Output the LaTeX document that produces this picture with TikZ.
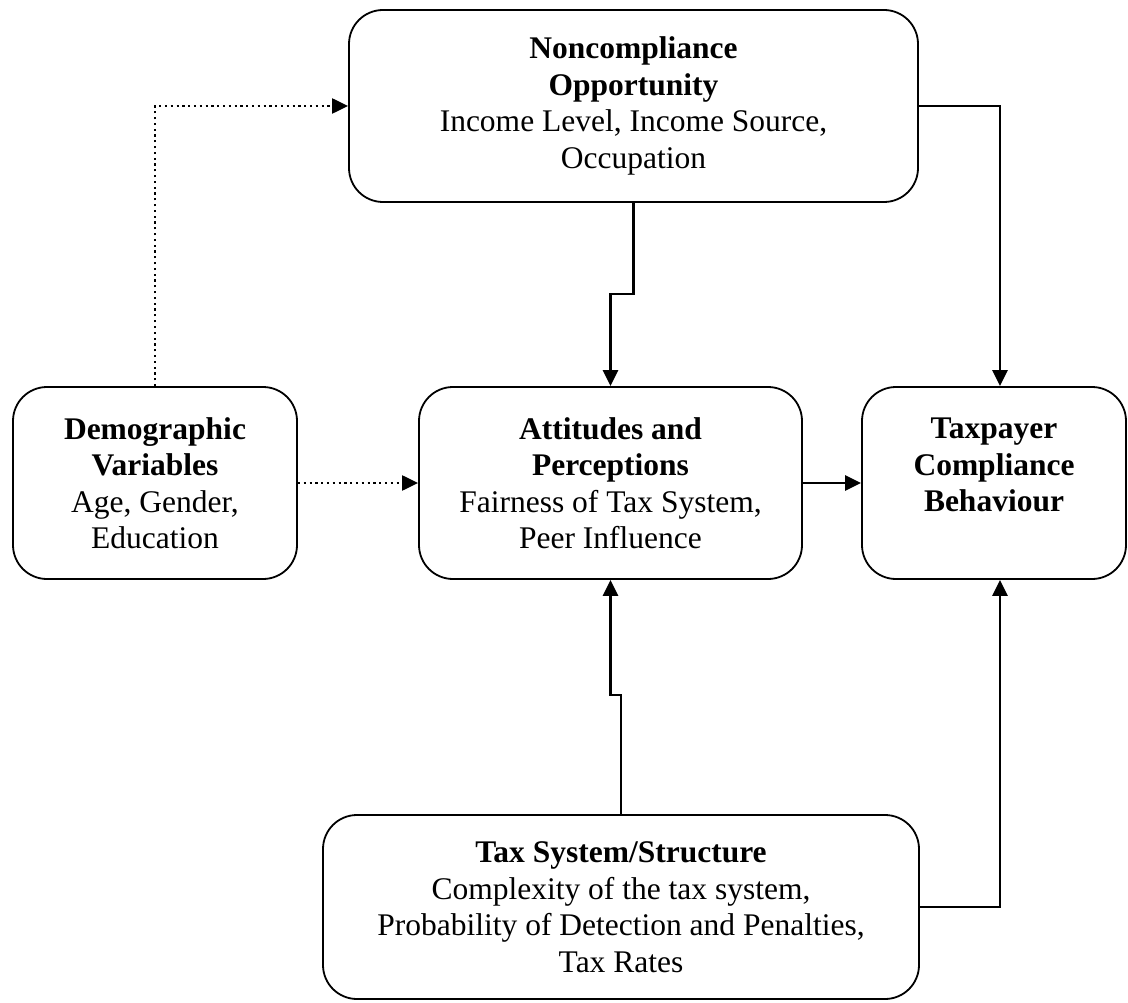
\documentclass[tikz,border=0pt]{standalone}
\usepackage{fontspec}
\setmainfont{Liberation Serif}
\usetikzlibrary{arrows.meta}
\begin{document}
\begin{tikzpicture}[x=1pt,y=-1pt,
  box/.style={draw, line width=1.8pt, rounded corners=34pt, align=center, inner sep=0pt,
    font=\fontsize{31.5}{36.5}\selectfont},
  arr/.style={line width=2.5pt, -{Triangle[length=16pt,width=15pt]}},
  dotarr/.style={line width=2.2pt, dash pattern=on 2.2pt off 3.6pt, -{Triangle[length=16pt,width=15pt]}}]
\useasboundingbox (0,0) rectangle (1128,1003);

\node[box, minimum width=569pt, minimum height=192pt] (nonc) at (633.5,106)
  {\textbf{Noncompliance}\\\textbf{Opportunity}\\Income Level, Income Source,\\Occupation};
\node[box, minimum width=284pt, minimum height=192pt] (demo) at (155,483)
  {\textbf{Demographic}\\\textbf{Variables}\\Age, Gender,\\Education};
\node[box, minimum width=383pt, minimum height=192pt] (att) at (610.5,483)
  {\textbf{Attitudes and}\\\textbf{Perceptions}\\Fairness of Tax System,\\Peer Influence};
\node[box, minimum width=264pt, minimum height=192pt] (taxp) at (994,483)
  {\textbf{Taxpayer}\\\textbf{Compliance}\\\textbf{Behaviour}\\\mbox{}};
\node[box, minimum width=596pt, minimum height=184pt] (taxs) at (621,907)
  {\textbf{Tax System/Structure}\\Complexity of the tax system,\\Probability of Detection and Penalties,\\Tax Rates};

\draw[arr] (nonc.south) -- ++(0,91) -| (att.north);
\draw[arr] (taxs.north) -- ++(0,-119) -| (att.south);
\draw[arr] (nonc.east) -| ([xshift=6pt]taxp.north);
\draw[arr] (taxs.east) -| ([xshift=6pt]taxp.south);
\draw[arr] (att.east) -- (taxp.west);
\draw[dotarr] (demo.north) |- (nonc.west);
\draw[dotarr] (demo.east) -- (att.west);
\end{tikzpicture}
\end{document}
